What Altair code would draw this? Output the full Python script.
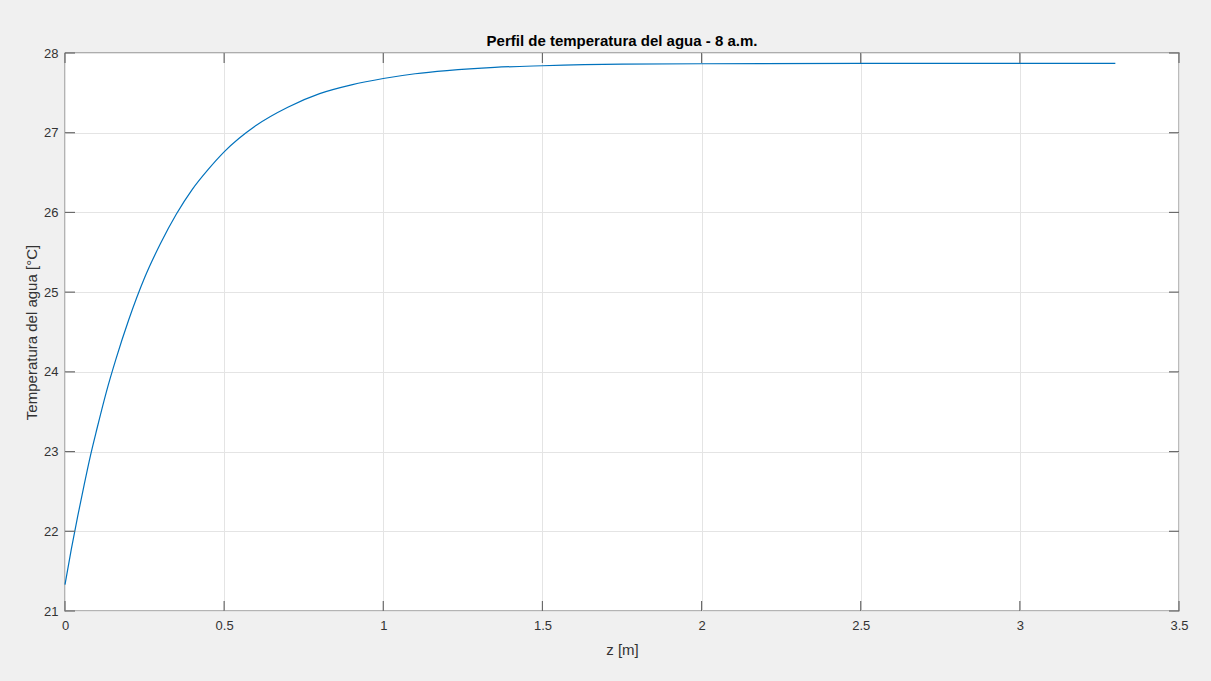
import altair as alt
import pandas as pd

# Water temperature profile with depth (readings along the curve)
z_m = [0, 0.02, 0.04, 0.06, 0.08, 0.10, 0.13, 0.16, 0.20, 0.25, 0.30, 0.35,
       0.40, 0.45, 0.50, 0.60, 0.70, 0.80, 0.90, 1.00, 1.10, 1.20, 1.35,
       1.50, 1.75, 2.00, 2.50, 3.00, 3.30]
temp_c = [21.33, 21.78, 22.19, 22.58, 22.95, 23.28, 23.75, 24.16, 24.65,
          25.18, 25.61, 25.98, 26.29, 26.54, 26.76, 27.09, 27.32, 27.49,
          27.60, 27.68, 27.74, 27.78, 27.82, 27.84, 27.86, 27.865, 27.87,
          27.87, 27.87]

x_ticks = [0, 0.5, 1, 1.5, 2, 2.5, 3, 3.5]
y_ticks = [21, 22, 23, 24, 25, 26, 27, 28]

W, H = 1114, 558
TICK = 10
FONT = "Liberation Sans"
FRAME = "#6a6a6a"
TEXT = "#333333"
GRID = "#e4e4e4"

profile = pd.DataFrame({"z": z_m, "T": temp_c})
xt = pd.DataFrame({"z": x_ticks})
yt = pd.DataFrame({"T": y_ticks})

x_scale = alt.Scale(domain=[0, 3.5], nice=False, zero=False)
y_scale = alt.Scale(domain=[21, 28], nice=False, zero=False)

x_axis = alt.Axis(
    values=x_ticks, format="~g", grid=True, gridColor=GRID, gridWidth=1,
    ticks=False, tickSize=0, domain=False,
    labelFont=FONT, labelFontSize=13, labelColor=TEXT, labelPadding=8,
    labelFlush=False,
    title="z [m]", titleFont=FONT, titleFontSize=15, titleFontWeight="normal",
    titleColor=TEXT, titleX=W / 2, titleY=38, titleBaseline="middle",
    titleAlign="center",
)
y_axis = alt.Axis(
    values=y_ticks, format="d", grid=True, gridColor=GRID, gridWidth=1,
    ticks=False, tickSize=0, domain=False,
    labelFont=FONT, labelFontSize=13, labelColor=TEXT, labelPadding=7,
    labelFlush=False,
    title="Temperatura del agua [°C]", titleFont=FONT, titleFontSize=15,
    titleFontWeight="normal", titleColor=TEXT, titleX=-34, titleY=H / 2,
    titleAngle=270, titleBaseline="middle", titleAlign="center",
)


def X(**kw):
    return alt.X("z:Q", scale=x_scale, axis=x_axis, **kw)


def Y(**kw):
    return alt.Y("T:Q", scale=y_scale, axis=y_axis, **kw)


line = alt.Chart(profile).mark_line(
    color="#0072BD", strokeWidth=1.2, interpolate="monotone"
).encode(x=X(), y=Y())

# Inward tick marks on all four sides of the box
tick_style = dict(color=FRAME, strokeWidth=1.2)
x_bottom = alt.Chart(xt).mark_rule(**tick_style).encode(
    x=X(), y=alt.value(H), y2=alt.value(H - TICK)
)
x_top = alt.Chart(xt).mark_rule(**tick_style).encode(
    x=X(), y=alt.value(0), y2=alt.value(TICK)
)
y_left = alt.Chart(yt).mark_rule(**tick_style).encode(
    y=Y(), x=alt.value(0), x2=alt.value(TICK)
)
y_right = alt.Chart(yt).mark_rule(**tick_style).encode(
    y=Y(), x=alt.value(W), x2=alt.value(W - TICK)
)

chart = (
    alt.layer(line, x_bottom, x_top, y_left, y_right)
    .properties(
        width=W,
        height=H,
        title=alt.TitleParams(
            "Perfil de temperatura del agua - 8 a.m.",
            font=FONT, fontSize=15, fontWeight="bold", color="#000000",
            anchor="middle", offset=6, dy=8,
        ),
        autosize=alt.AutoSizeParams(type="none"),
        padding={"left": 65, "top": 53, "right": 32, "bottom": 70},
        background="#f0f0f0",
    )
    .configure_view(fill="white", stroke=FRAME, strokeWidth=1.3)
)

chart.save("out.html", embed_options={"renderer": "svg", "actions": False})
